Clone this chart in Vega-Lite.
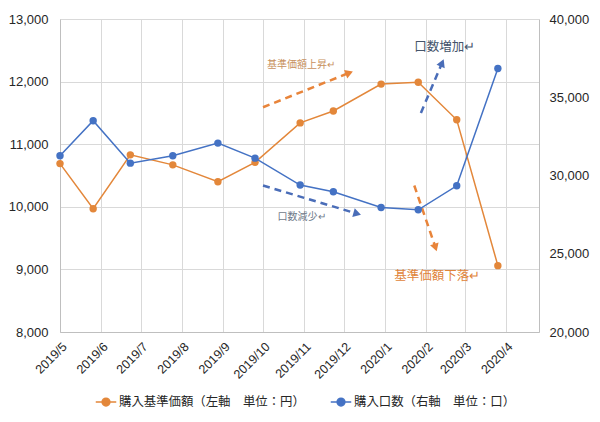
{
  "$schema": "https://vega.github.io/schema/vega-lite/v6.json",
  "width": 479,
  "height": 313,
  "autosize": {"type": "none"},
  "padding": {"left": 60, "top": 19, "right": 61, "bottom": 90},
  "background": "white",
  "config": {
    "view": {"stroke": null},
    "axis": {"labelFont": "Liberation Sans", "labelColor": "#404040", "domainColor": "#BFBFBF", "gridColor": "#D9D9D9", "ticks": false, "title": null}
  },
  "datasets": {
    "main": [
      {"date": "2019-05-01T00:00:00", "series": "購入基準価額（左軸　単位：円）", "value": 10690},
      {"date": "2019-05-26T00:00:00", "series": "購入基準価額（左軸　単位：円）", "value": 9970},
      {"date": "2019-06-23T00:00:00", "series": "購入基準価額（左軸　単位：円）", "value": 10830},
      {"date": "2019-07-25T00:00:00", "series": "購入基準価額（左軸　単位：円）", "value": 10670},
      {"date": "2019-08-28T00:00:00", "series": "購入基準価額（左軸　単位：円）", "value": 10400},
      {"date": "2019-09-25T00:00:00", "series": "購入基準価額（左軸　単位：円）", "value": 10710},
      {"date": "2019-10-29T00:00:00", "series": "購入基準価額（左軸　単位：円）", "value": 11340},
      {"date": "2019-11-23T00:00:00", "series": "購入基準価額（左軸　単位：円）", "value": 11530},
      {"date": "2019-12-29T00:00:00", "series": "購入基準価額（左軸　単位：円）", "value": 11960},
      {"date": "2020-01-26T00:00:00", "series": "購入基準価額（左軸　単位：円）", "value": 11990},
      {"date": "2020-02-24T00:00:00", "series": "購入基準価額（左軸　単位：円）", "value": 11390},
      {"date": "2020-03-26T00:00:00", "series": "購入基準価額（左軸　単位：円）", "value": 9060},
      {"date": "2019-05-01T00:00:00", "series": "購入口数（右軸　単位：口）", "value": 31260},
      {"date": "2019-05-26T00:00:00", "series": "購入口数（右軸　単位：口）", "value": 33500},
      {"date": "2019-06-23T00:00:00", "series": "購入口数（右軸　単位：口）", "value": 30790},
      {"date": "2019-07-25T00:00:00", "series": "購入口数（右軸　単位：口）", "value": 31260},
      {"date": "2019-08-28T00:00:00", "series": "購入口数（右軸　単位：口）", "value": 32070},
      {"date": "2019-09-25T00:00:00", "series": "購入口数（右軸　単位：口）", "value": 31110},
      {"date": "2019-10-29T00:00:00", "series": "購入口数（右軸　単位：口）", "value": 29390},
      {"date": "2019-11-23T00:00:00", "series": "購入口数（右軸　単位：口）", "value": 28960},
      {"date": "2019-12-29T00:00:00", "series": "購入口数（右軸　単位：口）", "value": 27950},
      {"date": "2020-01-26T00:00:00", "series": "購入口数（右軸　単位：口）", "value": 27810},
      {"date": "2020-02-24T00:00:00", "series": "購入口数（右軸　単位：口）", "value": 29340},
      {"date": "2020-03-26T00:00:00", "series": "購入口数（右軸　単位：口）", "value": 36840}
    ],
    "arrows": [
      {"id": "price_up", "date": "2019-10-01T00:00:00", "value": 11590, "date2": "2019-12-05T00:00:00", "value2": 12140},
      {"id": "units_down", "date": "2019-10-01T00:00:00", "value": 10340, "date2": "2019-12-11T00:00:00", "value2": 9890},
      {"id": "units_up", "date": "2020-01-28T00:00:00", "value": 11500, "date2": "2020-02-13T00:00:00", "value2": 12300},
      {"id": "price_down", "date": "2020-01-23T00:00:00", "value": 10340, "date2": "2020-02-08T00:00:00", "value2": 9350}
    ],
    "notes": [
      {"id": "price_up", "date": "2019-10-04T00:00:00", "value": 12260, "text": "基準価額上昇↵"},
      {"id": "units_up", "date": "2020-01-23T00:00:00", "value": 12560, "text": "口数増加↵"},
      {"id": "units_down", "date": "2019-10-12T00:00:00", "value": 9830, "text": "口数減少↵"},
      {"id": "price_down", "date": "2020-01-08T00:00:00", "value": 8900, "text": "基準価額下落↵"}
    ]
  },
  "encoding": {
    "x": {
      "field": "date", "type": "temporal",
      "scale": {"domain": [{"year": 2019, "month": 5, "date": 1}, {"year": 2020, "month": 4, "date": 26}], "nice": false},
      "axis": {"format": "%Y/%-m", "tickCount": {"interval": "month", "step": 1}, "labelAngle": -45, "labelFontSize": 12.5, "labelColor": "#262626", "labelPadding": 8, "grid": true, "labelOverlap": false, "labelFlush": false, "labelBound": false}
    }
  },
  "layer": [
    {
      "encoding": {
        "y": {"field": "value", "type": "quantitative", "scale": {"domain": [8000, 13000], "nice": false, "zero": false},
          "axis": {"values": [8000, 9000, 10000, 11000, 12000, 13000], "format": ",.0f", "labelFontSize": 13, "labelColor": "#262626", "labelPadding": 12, "grid": true}}
      },
      "layer": [
        {
          "data": {"name": "arrows"},
          "transform": [{"filter": "datum.id === 'price_up' || datum.id === 'price_down'"}],
          "mark": {"type": "rule", "color": "#E8843A", "strokeWidth": 2.5, "strokeDash": [7, 5]},
          "encoding": {"x2": {"field": "date2"}, "y2": {"field": "value2"}}
        },
        {
          "data": {"name": "arrows"},
          "transform": [{"filter": "datum.id === 'units_up' || datum.id === 'units_down'"}],
          "mark": {"type": "rule", "color": "#4A6DB8", "strokeWidth": 2.5, "strokeDash": [7, 5]},
          "encoding": {"x2": {"field": "date2"}, "y2": {"field": "value2"}}
        },
        {
          "data": {"name": "arrows"},
          "transform": [{"filter": "datum.id === 'price_up'"}],
          "mark": {"type": "point", "shape": "triangle-up", "filled": true, "color": "#E8843A", "size": 80, "angle": 69, "opacity": 1},
          "encoding": {"x": {"field": "date2", "type": "temporal"}, "y": {"field": "value2", "type": "quantitative"}}
        },
        {
          "data": {"name": "arrows"},
          "transform": [{"filter": "datum.id === 'price_down'"}],
          "mark": {"type": "point", "shape": "triangle-up", "filled": true, "color": "#E8843A", "size": 80, "angle": 162, "opacity": 1},
          "encoding": {"x": {"field": "date2", "type": "temporal"}, "y": {"field": "value2", "type": "quantitative"}}
        },
        {
          "data": {"name": "arrows"},
          "transform": [{"filter": "datum.id === 'units_up'"}],
          "mark": {"type": "point", "shape": "triangle-up", "filled": true, "color": "#4A6DB8", "size": 80, "angle": 23, "opacity": 1},
          "encoding": {"x": {"field": "date2", "type": "temporal"}, "y": {"field": "value2", "type": "quantitative"}}
        },
        {
          "data": {"name": "arrows"},
          "transform": [{"filter": "datum.id === 'units_down'"}],
          "mark": {"type": "point", "shape": "triangle-up", "filled": true, "color": "#4A6DB8", "size": 80, "angle": 106, "opacity": 1},
          "encoding": {"x": {"field": "date2", "type": "temporal"}, "y": {"field": "value2", "type": "quantitative"}}
        },
        {
          "data": {"name": "notes"},
          "transform": [{"filter": "datum.id === 'price_up'"}],
          "mark": {"type": "text", "align": "left", "baseline": "middle", "font": "Noto Sans CJK JP", "fontSize": 10, "color": "#C8915E"},
          "encoding": {"text": {"field": "text"}}
        },
        {
          "data": {"name": "notes"},
          "transform": [{"filter": "datum.id === 'units_up'"}],
          "mark": {"type": "text", "align": "left", "baseline": "middle", "font": "Noto Sans CJK JP", "fontSize": 12.5, "color": "#44546A"},
          "encoding": {"text": {"field": "text"}}
        },
        {
          "data": {"name": "notes"},
          "transform": [{"filter": "datum.id === 'units_down'"}],
          "mark": {"type": "text", "align": "left", "baseline": "middle", "font": "Noto Sans CJK JP", "fontSize": 10, "color": "#6F7A8A"},
          "encoding": {"text": {"field": "text"}}
        },
        {
          "data": {"name": "notes"},
          "transform": [{"filter": "datum.id === 'price_down'"}],
          "mark": {"type": "text", "align": "left", "baseline": "middle", "font": "Noto Sans CJK JP", "fontSize": 12.5, "color": "#E0843A"},
          "encoding": {"text": {"field": "text"}}
        },
        {
          "data": {"name": "main"},
          "transform": [{"filter": "datum.series === '購入基準価額（左軸　単位：円）'"}],
          "mark": {"type": "line", "strokeWidth": 1.5, "point": {"filled": true, "size": 55, "opacity": 1}},
          "encoding": {
            "color": {"field": "series", "type": "nominal",
              "scale": {"domain": ["購入基準価額（左軸　単位：円）", "購入口数（右軸　単位：口）"], "range": ["#E3873A", "#4472C4"]},
              "legend": {"orient": "none", "legendX": 35, "legendY": 372, "direction": "horizontal", "title": null,
                "symbolType": "M-1,0L1,0M0.38,0A0.38,0.38,0,1,1,-0.38,0A0.38,0.38,0,1,1,0.38,0Z",
                "symbolSize": 420, "symbolStrokeWidth": 1.5, "labelFont": "Noto Sans CJK JP", "labelFontSize": 12.4, "labelColor": "#262626", "labelLimit": 400, "columnPadding": 22, "labelOffset": 2,
                "encode": {"symbols": {"update": {"fill": {"scale": "color", "field": "value"}, "stroke": {"scale": "color", "field": "value"}}}}}
            }
          }
        }
      ]
    },
    {
      "data": {"name": "main"},
      "transform": [{"filter": "datum.series === '購入口数（右軸　単位：口）'"}],
      "mark": {"type": "line", "strokeWidth": 1.5, "point": {"filled": true, "size": 55, "opacity": 1}},
      "encoding": {
        "y": {"field": "value", "type": "quantitative", "scale": {"domain": [20000, 40000], "nice": false, "zero": false},
          "axis": {"orient": "right", "values": [20000, 25000, 30000, 35000, 40000], "format": ",.0f", "labelFontSize": 13, "labelColor": "#262626", "labelPadding": 10, "grid": false}},
        "color": {"field": "series", "type": "nominal"}
      }
    }
  ],
  "resolve": {"scale": {"y": "independent"}}
}
